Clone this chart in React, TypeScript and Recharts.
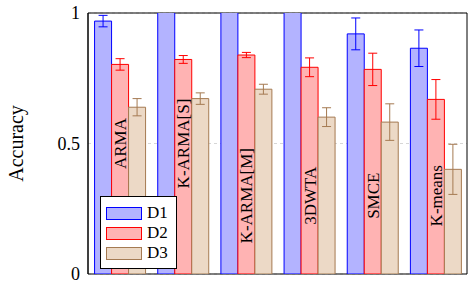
import React from 'react';
import {
  BarChart,
  Bar,
  XAxis,
  YAxis,
  CartesianGrid,
  ErrorBar,
  Legend,
  LabelList,
  ReferenceArea,
} from 'recharts';

const categories = ['ARMA', 'K-ARMA[S]', 'K-ARMA[M]', '3DWTA', 'SMCE', 'K-means'];
const d1 = [0.969, 1.1, 1.1, 1.1, 0.92, 0.865];
const d1Err = [0.022, 0.02, 0.02, 0.02, 0.061, 0.07];
const d2 = [0.803, 0.822, 0.839, 0.792, 0.784, 0.669];
const d2Err = [0.022, 0.015, 0.01, 0.036, 0.062, 0.076];
const d3 = [0.639, 0.672, 0.708, 0.601, 0.582, 0.401];
const d3Err = [0.033, 0.022, 0.019, 0.036, 0.07, 0.096];
// where the method name sits (in accuracy units) inside the D2 bar
const labelPos = [0.5, 0.5, 0.3, 0.3, 0.3, 0.3];
const yTicks = [0, 0.5, 1];

const FONT = "'Liberation Serif', 'Times New Roman', serif";

const SERIES = [
  { key: 'D1', fill: '#b3b3ff', stroke: '#0000ff' },
  { key: 'D2', fill: '#ffb3b3', stroke: '#ff0000' },
  { key: 'D3', fill: '#ecd9c6', stroke: '#a57a52' },
];

const data = categories.map((name, i) => ({
  name,
  D1: d1[i],
  D1err: d1Err[i],
  D2: d2[i],
  D2err: d2Err[i],
  D3: d3[i],
  D3err: d3Err[i],
  labelPos: labelPos[i],
}));

// rotated method name, placed from the bar's own geometry
const MethodLabel = (props: any) => {
  const { x, y, width, height, index } = props;
  const v = data[index].D2;
  const base = y + height;
  const cx = x + width / 2;
  const cy = base - (labelPos[index] * height) / v;
  return (
    <text
      x={cx}
      y={cy}
      dy="0.35em"
      textAnchor="middle"
      transform={`rotate(-90 ${cx} ${cy})`}
      fontFamily={FONT}
      fontSize={17}
      fill="#000"
    >
      {categories[index]}
    </text>
  );
};

const LegendBox = () => (
  <div
    style={{
      border: '1px solid #000',
      background: '#fff',
      padding: '6px 8px 5px 5px',
      fontFamily: FONT,
      fontSize: 17,
      lineHeight: '19.5px',
    }}
  >
    {SERIES.map((s) => (
      <div key={s.key} style={{ display: 'flex', alignItems: 'center', height: 20 }}>
        <div
          style={{
            width: 34,
            height: 11,
            background: s.fill,
            border: `1px solid ${s.stroke}`,
            marginRight: 5,
          }}
        />
        <span>{s.key}</span>
      </div>
    ))}
  </div>
);

const YLabel = (props: any) => {
  const { viewBox } = props;
  const cy = viewBox.y + viewBox.height / 2;
  const cx = 16;
  return (
    <text
      x={cx}
      y={cy}
      dy="0.35em"
      textAnchor="middle"
      transform={`rotate(-90 ${cx} ${cy})`}
      fontFamily={FONT}
      fontSize={20}
      fill="#000"
    >
      Accuracy
    </text>
  );
};

export default function App() {
  return (
    <div style={{ position: 'absolute', left: 0, top: 0 }}>
      <BarChart
        width={469}
        height={289}
        data={data}
        margin={{ top: 13, right: 2, bottom: 15, left: 0 }}
        barCategoryGap="10.4%"
        barGap={0}
      >
        <CartesianGrid vertical={false} stroke="#d6d6d6" strokeDasharray="3 3" />
        <XAxis
          dataKey="name"
          tick={false}
          tickLine={false}
          height={0}
          axisLine={{ stroke: '#000' }}
        />
        <YAxis
          width={88}
          domain={[0, 1]}
          ticks={yTicks}
          allowDataOverflow
          tickLine={false}
          tickSize={0}
          tickMargin={8}
          axisLine={{ stroke: '#000' }}
          tick={{ fill: '#000', fontSize: 18, fontFamily: FONT }}
          label={<YLabel />}
        />
        {SERIES.map((s) => (
          <Bar
            key={s.key}
            dataKey={s.key}
            fill={s.fill}
            stroke={s.stroke}
            strokeWidth={1}
            isAnimationActive={false}
          >
            <ErrorBar dataKey={`${s.key}err`} width={4.5} stroke={s.stroke} strokeWidth={1} />
            {s.key === 'D2' && <LabelList dataKey="D2" content={<MethodLabel />} />}
          </Bar>
        ))}
        <ReferenceArea y1={0} y2={1} fill="none" stroke="#000" strokeWidth={1} fillOpacity={0} />
        <Legend
          layout="vertical"
          align="center"
          verticalAlign="middle"
          content={<LegendBox />}
          wrapperStyle={{ left: 100, top: 196, width: 'auto' }}
        />
      </BarChart>
    </div>
  );
}
